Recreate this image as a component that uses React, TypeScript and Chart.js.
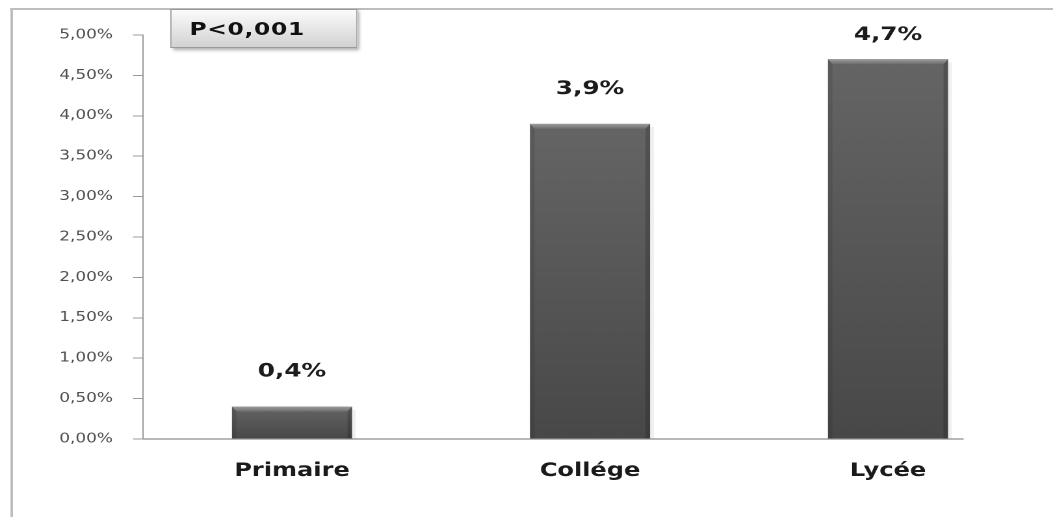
import React, { useEffect, useRef } from 'react';
import { Chart, registerables } from 'chart.js';

Chart.register(...registerables);

const categories = ['Primaire', 'Collége', 'Lycée'];
const values = [0.004, 0.039, 0.047];
const yMin = 0;
const yMax = 0.05;
const yStep = 0.005;
const pValueLabel = 'P<0,001';

const S = 1.3; // horizontal stretch of the reference picture
const W = 1053 / S;
const H = 517;
const FONT = '"DejaVu Sans", Verdana, sans-serif';

const fmtTick = (v: number) => (v * 100).toFixed(2).replace('.', ',') + '%';
const fmtValue = (v: number) => (v * 100).toFixed(1).replace('.', ',') + '%';

const bevelBars = {
  id: 'bevelBars',
  afterDatasetsDraw(chart: any) {
    const ctx = chart.ctx;
    const meta = chart.getDatasetMeta(0);
    meta.data.forEach((bar: any, i: number) => {
      const { x, y, base, width } = bar.getProps(['x', 'y', 'base', 'width'], true);
      const L = x - width / 2;
      const R = x + width / 2;
      const T = y;
      const B = base;
      const bx = 3.5;
      const by = 5;
      ctx.save();
      // faint shadow
      ctx.fillStyle = 'rgba(0,0,0,0.06)';
      ctx.fillRect(R, T + 3, 3, B - T - 3);
      // body
      const g = ctx.createLinearGradient(0, T, 0, B);
      g.addColorStop(0, '#656565');
      g.addColorStop(1, '#484848');
      ctx.fillStyle = g;
      ctx.fillRect(L, T, R - L, B - T);
      // top bevel
      ctx.beginPath();
      ctx.moveTo(L, T);
      ctx.lineTo(R, T);
      ctx.lineTo(R - bx, T + by);
      ctx.lineTo(L + bx, T + by);
      ctx.closePath();
      const gt = ctx.createLinearGradient(0, T, 0, T + by);
      gt.addColorStop(0, '#9c9c9c');
      gt.addColorStop(1, '#6c6c6c');
      ctx.fillStyle = gt;
      ctx.fill();
      // left bevel
      ctx.beginPath();
      ctx.moveTo(L, T);
      ctx.lineTo(L + bx, T + by);
      ctx.lineTo(L + bx, B);
      ctx.lineTo(L, B);
      ctx.closePath();
      ctx.fillStyle = 'rgba(30,30,30,0.14)';
      ctx.fill();
      // right bevel
      ctx.beginPath();
      ctx.moveTo(R, T);
      ctx.lineTo(R - bx, T + by);
      ctx.lineTo(R - bx, B);
      ctx.lineTo(R, B);
      ctx.closePath();
      ctx.fillStyle = 'rgba(20,20,20,0.22)';
      ctx.fill();
      // value label (kept inside the plot area, as in the reference)
      ctx.fillStyle = '#1c1c1c';
      ctx.font = `bold 19px ${FONT}`;
      ctx.textAlign = 'center';
      ctx.textBaseline = 'middle';
      const ly = Math.max(T - 35, chart.chartArea.top);
      ctx.fillText(fmtValue(values[i]), x, ly);
      ctx.restore();
    });
  },
};

const xAxisLine = {
  id: 'xAxisLine',
  beforeDatasetsDraw(chart: any) {
    const ctx = chart.ctx;
    const meta = chart.getDatasetMeta(0);
    const last = meta.data[meta.data.length - 1];
    const { x, width } = last.getProps(['x', 'width'], true);
    const yb = chart.chartArea.bottom;
    ctx.save();
    ctx.strokeStyle = '#a0a0a0';
    ctx.lineWidth = 1.5;
    ctx.beginPath();
    ctx.moveTo(chart.chartArea.left, yb);
    ctx.lineTo(x + width / 2 + 12, yb);
    ctx.stroke();
    ctx.restore();
  },
};

export default function App() {
  const ref = useRef<HTMLCanvasElement | null>(null);

  useEffect(() => {
    if (!ref.current) return;
    Chart.defaults.font.family = FONT;
    const chart = new Chart(ref.current, {
      type: 'bar',
      data: {
        labels: categories,
        datasets: [
          {
            data: values,
            backgroundColor: 'rgba(0,0,0,0)',
            borderWidth: 0,
            barPercentage: 0.403,
            categoryPercentage: 1,
          },
        ],
      },
      options: {
        responsive: false,
        maintainAspectRatio: false,
        animation: false,
        devicePixelRatio: 2,
        layout: { padding: { top: 35, right: 12.3, bottom: 0, left: 0 } },
        plugins: {
          legend: { display: false },
          tooltip: { enabled: false },
        },
        scales: {
          x: {
            type: 'category',
            grid: { display: false, drawTicks: false },
            border: { display: false },
            ticks: {
              font: { family: FONT, size: 18.5, weight: 'bold' },
              color: '#1a1a1a',
              padding: 21,
            },
            afterFit(s: any) {
              s.height = 78;
            },
          },
          y: {
            min: yMin,
            max: yMax,
            ticks: {
              stepSize: yStep,
              callback: (v: any) => fmtTick(Number(v)),
              font: { family: FONT, size: 13 },
              color: '#505050',
              padding: 15.4,
            },
            grid: {
              drawOnChartArea: false,
              drawTicks: true,
              tickLength: 7.7,
              color: '#9a9a9a',
            },
            border: { display: true, color: '#9a9a9a', width: 1 },
            afterFit(s: any) {
              s.width = 110;
            },
          },
        },
      },
      plugins: [xAxisLine, bevelBars],
    });
    return () => chart.destroy();
  }, []);

  return (
    <div
      style={{
        position: 'fixed',
        left: 0,
        top: 0,
        width: W,
        height: H,
        transform: `scaleX(${S})`,
        transformOrigin: '0 0',
        background: '#fff',
        overflow: 'hidden',
      }}
    >
      <div
        style={{
          position: 'absolute',
          left: 8,
          top: 8,
          width: W,
          height: H,
          borderTop: '2px solid #bdbdbd',
          borderLeft: '2px solid #bdbdbd',
          boxSizing: 'border-box',
        }}
      />
      <canvas
        ref={ref}
        width={W}
        height={H}
        style={{ position: 'absolute', left: 0, top: 0, width: W, height: H, display: 'block' }}
      />
      <div
        style={{
          position: 'absolute',
          left: 130.8,
          top: 9,
          width: 144,
          height: 39,
          boxSizing: 'border-box',
          border: '1px solid #9a9a9a',
          background: 'linear-gradient(#fbfbfb, #d2d2d2)',
          boxShadow: '2px 2px 3px rgba(0,0,0,0.35)',
          fontFamily: FONT,
          fontWeight: 'bold',
          fontSize: 18,
          lineHeight: '37px',
          paddingLeft: 14,
          color: '#111',
          letterSpacing: 0.5,
        }}
      >
        {pValueLabel}
      </div>
    </div>
  );
}
